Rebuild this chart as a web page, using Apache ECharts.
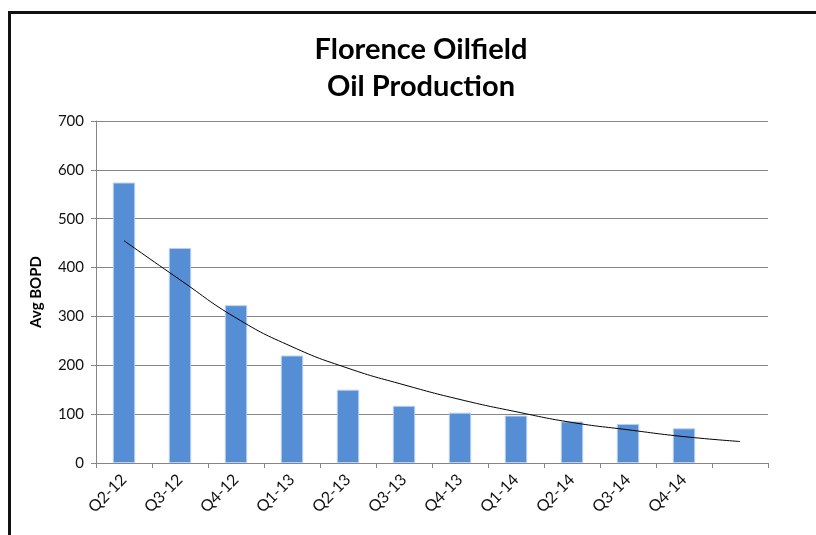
<!DOCTYPE html>
<html>
<head>
<meta charset="utf-8">
<script src="https://cdn.jsdelivr.net/npm/echarts@6/dist/echarts.min.js"></script>
<style>
html,body{margin:0;padding:0;background:#fff;}
#chart{width:816px;height:535px;}
</style>
</head>
<body>
<div id="chart"></div>
<script>
const categories = ['Q2-12','Q3-12','Q4-12','Q1-13','Q2-13','Q3-13','Q4-13','Q1-14','Q2-14','Q3-14','Q4-14',''];
const avgBopd = [574, 440, 323, 220, 150, 117, 103, 97, 85, 80, 71, null];
const trendValues = [455, 375, 297, 238, 194, 160, 130, 105, 83, 68, 54, 44];
const yTicks = [0, 100, 200, 300, 400, 500, 600, 700];

const chart = echarts.init(document.getElementById('chart'));
chart.setOption({
  animation: false,
  backgroundColor: '#ffffff',
  title: {
    text: 'Florence Oilfield\nOil Production',
    left: 416,
    textAlign: 'center',
    top: 26,
    textStyle: {
      fontFamily: 'Lato',
      fontWeight: 'bold',
      fontSize: 29,
      lineHeight: 37,
      color: '#000'
    }
  },
  graphic: [{
    type: 'rect',
    shape: {x: 9.5, y: 12.5, width: 900, height: 700},
    style: {fill: 'none', stroke: '#111', lineWidth: 3},
    silent: true
  }],
  grid: {left: 96, right: 48, top: 121, bottom: 72, containLabel: false},
  xAxis: {
    type: 'category',
    data: categories,
    boundaryGap: true,
    axisLine: {show: true, lineStyle: {color: '#868686', width: 1}},
    axisTick: {show: true, alignWithLabel: false, length: 5, lineStyle: {color: '#868686'}},
    axisLabel: {
      rotate: 45,
      interval: 0,
      margin: 14,
      fontFamily: 'Lato',
      fontSize: 16,
      color: '#111'
    }
  },
  yAxis: {
    type: 'value',
    min: yTicks[0],
    max: yTicks[yTicks.length - 1],
    interval: 100,
    name: 'Avg BOPD',
    nameLocation: 'middle',
    nameGap: 52,
    nameRotate: 90,
    nameTextStyle: {fontFamily: 'Lato', fontWeight: 'bold', fontSize: 15, color: '#000'},
    axisLine: {show: true, lineStyle: {color: '#868686', width: 1}},
    axisTick: {show: true, length: 5, lineStyle: {color: '#868686'}},
    axisLabel: {fontFamily: 'Lato', fontSize: 15, color: '#111', margin: 12},
    splitLine: {show: true, lineStyle: {color: '#868686', width: 1}}
  },
  series: [
    {
      name: 'Avg BOPD',
      type: 'bar',
      data: avgBopd,
      barWidth: '40%',
      itemStyle: {color: '#558ED5', borderColor: '#B9CFEC', borderWidth: 1}
    },
    {
      name: 'Trend',
      type: 'line',
      data: trendValues,
      smooth: true,
      symbol: 'none',
      lineStyle: {color: '#000', width: 1},
      z: 5
    }
  ]
});
</script>
</body>
</html>
